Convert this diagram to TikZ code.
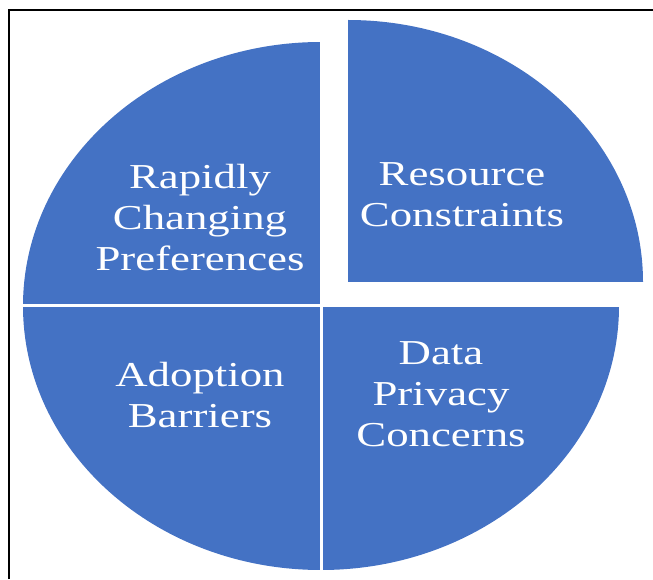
\documentclass[tikz,border=0pt]{standalone}
\usepackage{fontspec}
\setmainfont{Liberation Serif}
\usepackage{xcolor}
\usepackage{tikz}
\definecolor{pieblue}{HTML}{4472C4}

\begin{document}
\begin{tikzpicture}[x=1pt, y=1pt,
		slice/.style={fill=pieblue},
		cut/.style={white, line width=3pt},
		label/.style={text=white, align=center, xscale=1.28,
			font=\fontsize{35}{41}\selectfont}]
		\useasboundingbox (0,0) rectangle (653,579);
		% frame, only left and top sides show
		\draw[black, line width=1.6pt] (9,0) -- (9,569) -- (653,569);

		\coordinate (c) at (321,273);
		\coordinate (cx) at (348,297);

		\fill[slice] (c) -- ++(0,264) arc[start angle=90, end angle=180, x radius=298pt, y radius=264pt] -- cycle;
		\fill[slice] (c) -- ++(-298,0) arc[start angle=180, end angle=270, x radius=298pt, y radius=264pt] -- cycle;
		\fill[slice] (c) -- ++(0,-264) arc[start angle=270, end angle=360, x radius=298pt, y radius=264pt] -- cycle;
		% pulled out slice
		\fill[slice] (cx) -- ++(295,0) arc[start angle=0, end angle=90, x radius=295pt, y radius=262pt] -- cycle;

		\draw[cut] ([yshift=270pt]c) -- ([yshift=-270pt]c);
		\draw[cut] ([xshift=-302pt]c) -- ([xshift=302pt]c);

		\node[label] at (200,361) (rapid) {Rapidly\\Changing\\Preferences};
		\node[label] at (462,384) (resource) {Resource\\Constraints};
		\node[label] at (200,184) (adoption) {Adoption\\Barriers};
		\node[label] at (441,185) (privacy) {Data\\Privacy\\Concerns};
	\end{tikzpicture}
\end{document}
